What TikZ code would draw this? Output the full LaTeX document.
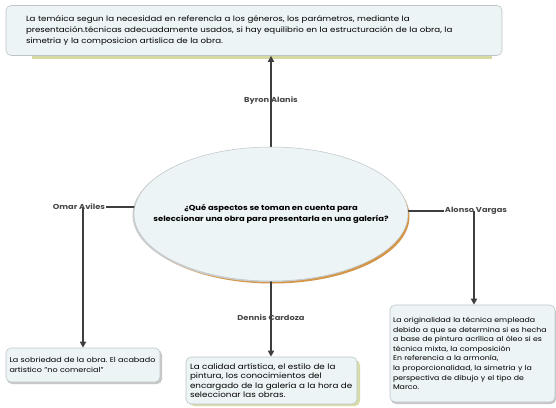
\documentclass[tikz,border=0pt]{standalone}
\usepackage{fontspec}
\setmainfont{Poppins}[FakeStretch=1.15]
\usetikzlibrary{arrows.meta,shapes.geometric,backgrounds}
\definecolor{boxfill}{RGB}{237,244,246}
\definecolor{boxline}{RGB}{190,198,200}
\definecolor{olivesh}{RGB}{205,208,140}
\definecolor{conn}{RGB}{62,62,62}
\definecolor{orangesh}{RGB}{212,150,72}
\begin{document}
\frenchspacing
\begin{tikzpicture}[x=1pt,y=-1pt,
  infobox/.style={draw=boxline, line width=0.6pt, fill=boxfill, rounded corners=5pt,
    align=left, inner ysep=0pt, font=\fontsize{7}{9.6}\selectfont},
  lbl/.style={font=\bfseries\fontsize{7.2}{8}\selectfont, text=black!72, inner sep=1pt},
  conline/.style={draw=conn, line width=1.6pt},
  arr/.style={conline, -{Triangle[length=6pt,width=6pt]}},
]
\useasboundingbox (0,0) rectangle (556,407);

% top box
\node[infobox, text width=456pt, inner xsep=20pt, minimum height=50pt,
  font=\fontsize{7.5}{11}\selectfont] (top) at (254,30.5)
  {La temáica segun la necesidad en referencla a los géneros, los parámetros, mediante la\\
   presentación.técnicas adecuadamente usados, si hay equilibrio en la estructuración de la obra, la\\
   simetria y la composicion artislica de la obra.};

% central ellipse
\node[ellipse, draw=boxline, line width=0.5pt, fill=boxfill, minimum width=274pt, minimum height=134pt,
  inner sep=0pt] (ell) at (271,214) {};
\node[align=center, font=\bfseries\fontsize{7.3}{11}\selectfont, inner sep=0pt] (question) at (ell.center)
  {¿Qué aspectos se toman en cuenta para\\seleccionar una obra para presentarla en una galería?};

% boxes
\node[infobox, text width=147pt, inner xsep=3.5pt, minimum height=34pt,
  font=\fontsize{7}{10.5}\selectfont] (boxL) at (83,365)
  {La sobriedad de la obra. El acabado\\artistico "no comercial"};
\node[infobox, text width=163pt, inner xsep=4pt, minimum height=47pt,
  font=\fontsize{7.6}{9.6}\selectfont] (boxB) at (271.5,380.5)
  {La calidad artística, el estilo de la\\pintura, los conocimientos del\\encargado de la galería a la hora de\\seleccionar las obras.};
\node[infobox, text width=159pt, inner xsep=3pt, minimum height=97pt,
  font=\fontsize{6.8}{9.6}\selectfont] (boxR) at (472.5,353.5)
  {La originalidad la técnica empleada\\debido a que se determina si es hecha\\a base de pintura acrílica al óleo si es\\técnica mixta, la composición\\En referencia a la armonía,\\la proporcionalidad, la simetria y la\\perspectiva de dibujo y el tipo de\\Marco.};

% labels
\node[lbl] (byron) at (271,101) {Byron Alanis};
\node[lbl] (omar) at (79,207) {Omar Aviles};
\node[lbl] (alonso) at (476,211) {Alonso Vargas};
\node[lbl] (dennis) at (271,318) {Dennis Cardoza};
\coordinate (jL) at (83,207);
\coordinate (jR) at (474,211);

\begin{scope}[on background layer]
  \fill[white] (0,0) rectangle (556,407);
  % shadows
  \fill[olivesh, opacity=0.8] (32,53) rectangle (492,59);
  \fill[olivesh, opacity=0.75, rounded corners=5pt] (189,360) rectangle (360,406);
  \fill[black!22, rounded corners=5pt] (7,350) rectangle (162,384);
  \fill[black!22, rounded corners=5pt] (391,307) rectangle (556,404);
  \fill[orangesh] (272.5,216.5) ellipse [x radius=137pt, y radius=67pt];
  \fill[black!20] (269.5,215) ellipse [x radius=137pt, y radius=67pt];
  % connectors
  \draw[arr] (ell.north) -- (ell.north |- top.south);
  \draw[conline] (omar.east) -- (omar.east -| ell.center);
  \draw[arr] (jL) -- (jL |- boxL.north);
  \draw[conline] (alonso.west) -- (alonso.west -| ell.center);
  \draw[arr] (jR) -- (jR |- boxR.north);
  \draw[arr] (ell.south) -- (ell.south |- boxB.north);
\end{scope}
\end{tikzpicture}
\end{document}
